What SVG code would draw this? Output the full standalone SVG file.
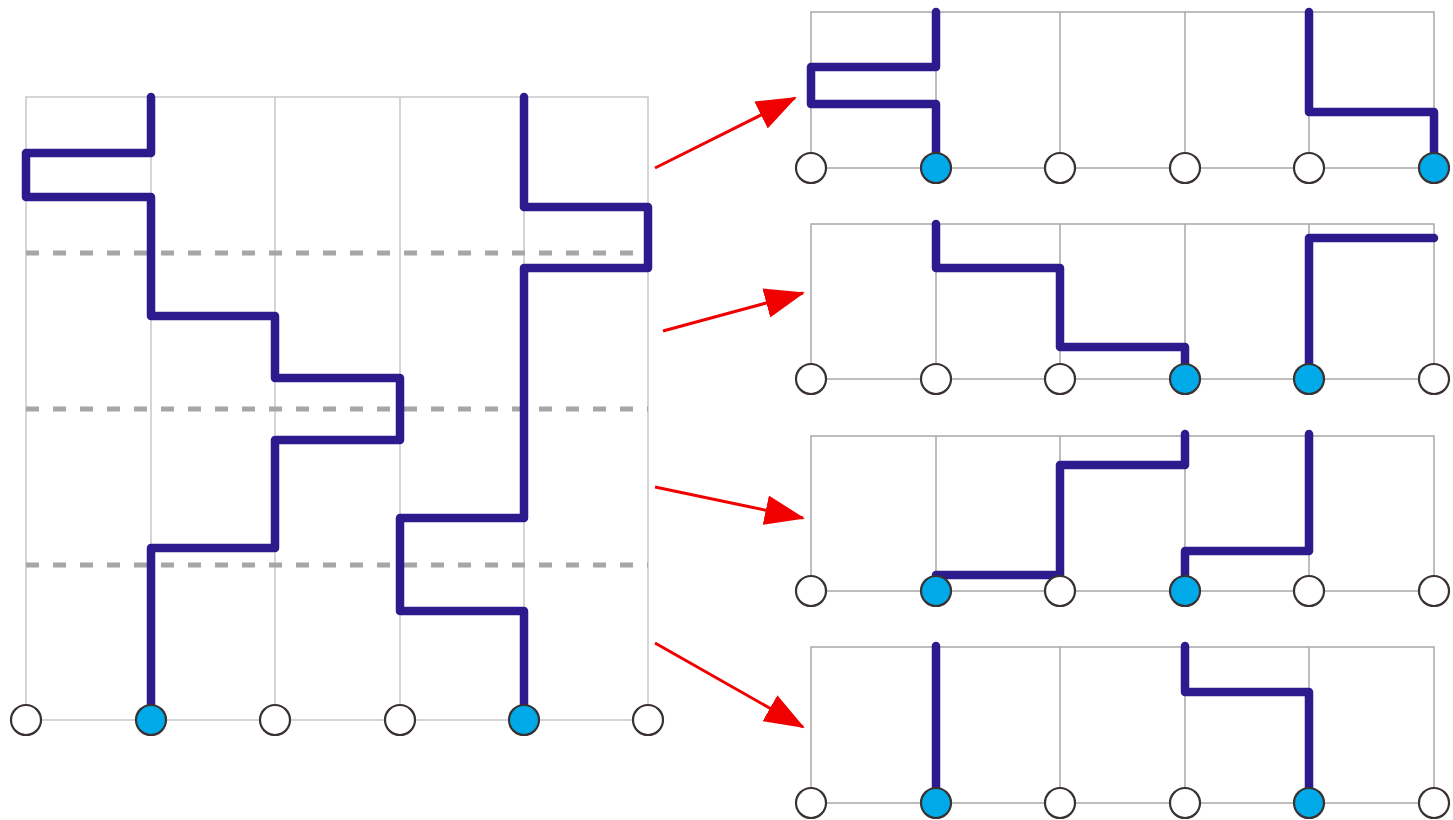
<svg xmlns="http://www.w3.org/2000/svg" width="1453" height="820" viewBox="0 0 1453 820">
  <defs>
    <style>
      .grid { fill: none; stroke: #c8c8c8; stroke-width: 1.5; }
      .grid.dark { stroke: #a8a8a8; }
      .cut { stroke: #a6a6a6; stroke-width: 5; stroke-dasharray: 13 14; }
      .wire { fill: none; stroke: #2d1a8c; stroke-width: 8.5; stroke-linecap: round; stroke-linejoin: round; }
      .port { fill: #ffffff; stroke: #3a3232; stroke-width: 2.2; }
      .port.on { fill: #00a9e8; }
      .arrow { stroke: #f00000; stroke-width: 3; fill: none; }
    </style>
    <marker id="head" viewBox="0 0 40 30" refX="38" refY="15" markerWidth="40" markerHeight="30" markerUnits="userSpaceOnUse" orient="auto">
      <path d="M0,0 L40,15 L0,30 Z" fill="#f00000"/>
    </marker>
  </defs>
  <rect width="1453" height="820" fill="#ffffff"/>

  <!-- full lattice on the left -->
  <g id="lattice-full">
    <path class="grid" d="M26,97 H648 V720 H26 Z M151,97 V720 M275,97 V720 M400,97 V720 M524,97 V720"/>
    <line class="cut" x1="26" y1="253" x2="648" y2="253"/>
    <line class="cut" x1="26" y1="409" x2="648" y2="409"/>
    <line class="cut" x1="26" y1="565" x2="648" y2="565"/>
    <path class="wire" d="M151,97 V153 H26 V197 H151 V316 H275 V378 H400 V440 H275 V548 H151 V720"/>
    <path class="wire" d="M524,97 V207 H648 V268 H524 V518 H400 V611 H524 V720"/>
    <circle class="port" cx="26" cy="720" r="15"/>
    <circle class="port on" cx="151" cy="720" r="15"/>
    <circle class="port" cx="275" cy="720" r="15"/>
    <circle class="port" cx="400" cy="720" r="15"/>
    <circle class="port on" cx="524" cy="720" r="15"/>
    <circle class="port" cx="648" cy="720" r="15"/>
  </g>

  <!-- slice 1 -->
  <g id="slice-1">
    <path class="grid dark" d="M811,12 H1434 V168 H811 Z M936,12 V168 M1060,12 V168 M1185,12 V168 M1309,12 V168"/>
    <path class="wire" d="M936,12 V67 H811 V104 H936 V168"/>
    <path class="wire" d="M1309,12 V112 H1434 V168"/>
    <circle class="port" cx="811" cy="168" r="15"/>
    <circle class="port on" cx="936" cy="168" r="15"/>
    <circle class="port" cx="1060" cy="168" r="15"/>
    <circle class="port" cx="1185" cy="168" r="15"/>
    <circle class="port" cx="1309" cy="168" r="15"/>
    <circle class="port on" cx="1434" cy="168" r="15"/>
  </g>

  <!-- slice 2 -->
  <g id="slice-2">
    <path class="grid dark" d="M811,224 H1434 V379 H811 Z M936,224 V379 M1060,224 V379 M1185,224 V379 M1309,224 V379"/>
    <path class="wire" d="M936,224 V268 H1060 V347 H1185 V379"/>
    <path class="wire" d="M1309,379 V238 H1434"/>
    <circle class="port" cx="811" cy="379" r="15"/>
    <circle class="port" cx="936" cy="379" r="15"/>
    <circle class="port" cx="1060" cy="379" r="15"/>
    <circle class="port on" cx="1185" cy="379" r="15"/>
    <circle class="port on" cx="1309" cy="379" r="15"/>
    <circle class="port" cx="1434" cy="379" r="15"/>
  </g>

  <!-- slice 3 -->
  <g id="slice-3">
    <path class="grid dark" d="M811,436 H1434 V591 H811 Z M936,436 V591 M1060,436 V591 M1185,436 V591 M1309,436 V591"/>
    <path class="wire" d="M936,575 H1060 V465 H1185 V434"/>
    <path class="wire" d="M1185,591 V551 H1309 V434"/>
    <circle class="port" cx="811" cy="591" r="15"/>
    <circle class="port on" cx="936" cy="591" r="15"/>
    <circle class="port" cx="1060" cy="591" r="15"/>
    <circle class="port on" cx="1185" cy="591" r="15"/>
    <circle class="port" cx="1309" cy="591" r="15"/>
    <circle class="port" cx="1434" cy="591" r="15"/>
  </g>

  <!-- slice 4 -->
  <g id="slice-4">
    <path class="grid dark" d="M811,647 H1434 V803 H811 Z M936,647 V803 M1060,647 V803 M1185,647 V803 M1309,647 V803"/>
    <path class="wire" d="M936,646 V803"/>
    <path class="wire" d="M1185,646 V692 H1309 V803"/>
    <circle class="port" cx="811" cy="803" r="15"/>
    <circle class="port on" cx="936" cy="803" r="15"/>
    <circle class="port" cx="1060" cy="803" r="15"/>
    <circle class="port" cx="1185" cy="803" r="15"/>
    <circle class="port on" cx="1309" cy="803" r="15"/>
    <circle class="port" cx="1434" cy="803" r="15"/>
  </g>

  <!-- arrows from each cut band to its slice -->
  <g id="connectors">
    <line class="arrow" x1="655" y1="168" x2="795" y2="98" marker-end="url(#head)"/>
    <line class="arrow" x1="663" y1="331" x2="803" y2="293" marker-end="url(#head)"/>
    <line class="arrow" x1="655" y1="487" x2="803" y2="518" marker-end="url(#head)"/>
    <line class="arrow" x1="655" y1="643" x2="803" y2="727" marker-end="url(#head)"/>
  </g>
</svg>
